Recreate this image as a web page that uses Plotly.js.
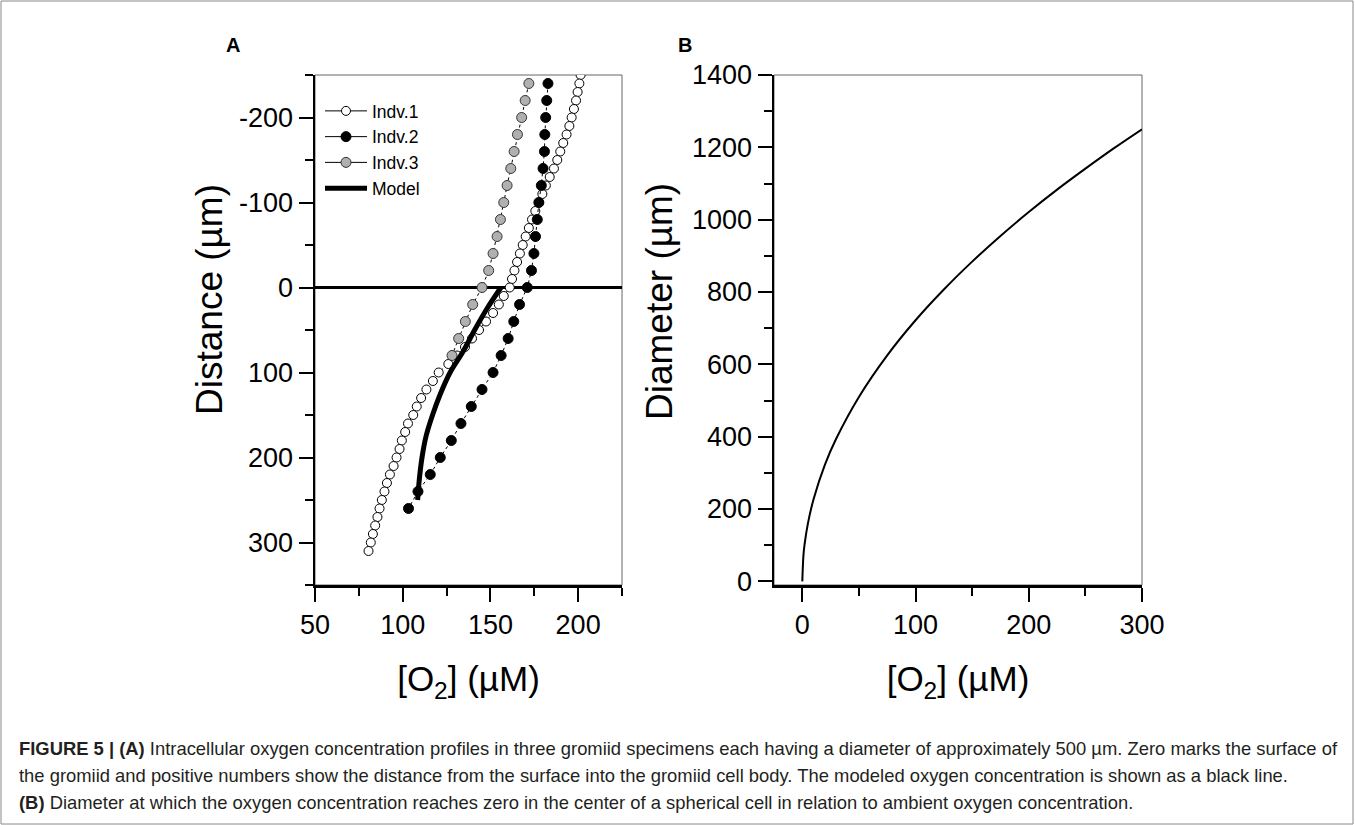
<!DOCTYPE html>
<html>
<head>
<meta charset="utf-8">
<script src="https://cdn.plot.ly/plotly-3.0.1.min.js"></script>
<style>
html,body{margin:0;padding:0;background:#fff;}
#chart{width:1355px;height:825px;}
</style>
</head>
<body>
<div id="chart"></div>
<script>
// ---------- Panel A data ----------
const indv1Y = [-250,-240,-230,-220,-210,-200,-190,-180,-170,-160,-150,-140,-130,-120,-110,-100,-90,-80,-70,-60,-50,-40,-30,-20,-10,0,10,20,30,40,50,60,70,80,90,100,110,120,130,140,150,160,170,180,190,200,210,220,230,240,250,260,270,280,290,300,310];
const indv1X = [201.4,200.7,199.7,198.8,197.6,196.3,195.0,193.4,191.5,189.8,188.1,186.2,183.8,181.6,179.6,177.7,175.6,173.7,171.9,170.1,168.4,166.8,165.2,163.7,162.3,161.0,157.6,154.8,151.5,147.5,143.5,139.5,135.5,131.0,126.0,120.5,117.2,113.5,110.5,108.0,106.0,103.0,101.4,99.5,98.2,96.5,94.8,92.7,91.0,89.6,88.1,86.8,85.6,84.3,83.0,81.8,80.5];

const indv2Y = [-240,-220,-200,-180,-160,-140,-120,-100,-80,-60,-40,-20,0,20,40,60,80,100,120,140,160,180,200,220,240,260];
const indv2X = [182.8,182.1,181.5,181.0,180.8,180.0,179.0,177.6,176.7,175.7,174.8,173.4,171.0,166.6,163.3,160.1,156.1,151.5,145.2,139.1,133.2,127.7,121.4,115.7,108.7,103.3];

const indv3Y = [-240,-220,-200,-180,-160,-140,-120,-100,-80,-60,-40,-20,0,20,40,60,80];
const indv3X = [171.9,169.8,167.8,165.4,163.5,161.6,159.5,157.6,155.7,153.8,151.5,149.0,145.2,139.9,135.7,131.9,128.1];

const modelY = [0,25,50,75,100,125,150,175,200,225,250];
const modelX = [156,148,141,134.5,127,121.5,117,113.3,111,109.5,108.5];

const xTicksA = [50,100,150,200];
const xMinorA = [75,125,175,225];
const yTicksA = [-200,-100,0,100,200,300];
const yTickTextA = ['-200','-100','0','100','200','300'];
const yMinorA = [-250,-150,-50,50,150,250,350];

// ---------- Panel B data ----------
const diaC = [0,1,2,5,10,20,30,50,75,100,125,150,175,200,225,250,275,300];
const diaD = [0,72,102,161,228,323,395,510,625,722,807,884,955,1021,1083,1141,1197,1250];

const xTicksB = [0,100,200,300];
const xMinorB = [50,150,250];
const yTicksB = [0,200,400,600,800,1000,1200,1400];
const yMinorB = [100,300,500,700,900,1100,1300];

// ---------- Texts ----------
const seriesNames = ['Indv.1','Indv.2','Indv.3','Model'];
const xTitle = '[O<sub>2</sub>] (µM)';
const yTitleA = 'Distance (µm)';
const yTitleB = 'Diameter (µm)';
const captionLines = [
  '<b>FIGURE 5 | (A)</b> Intracellular oxygen concentration profiles in three gromiid specimens each having a diameter of approximately 500 µm. Zero marks the surface of',
  'the gromiid and positive numbers show the distance from the surface into the gromiid cell body. The modeled oxygen concentration is shown as a black line.',
  '<b>(B)</b> Diameter at which the oxygen concentration reaches zero in the center of a spherical cell in relation to ambient oxygen concentration.'
];

const FONT = 'Liberation Sans, Arial, Helvetica, sans-serif';
const W = 1355, H = 825;
const px = v => v / W;
const py = v => 1 - v / H;

const dashLine = {color:'black', width:1, dash:'3px,3px'};
const solidLine = {color:'black', width:1};
const markers = [
  {symbol:'circle', size:9, color:'white', line:{color:'black', width:1}},
  {symbol:'circle', size:10, color:'black', line:{color:'black', width:1}},
  {symbol:'circle', size:10, color:'#b0b0b0', line:{color:'#333', width:1}}
];

const traces = [
  {x: indv1X, y: indv1Y, name: seriesNames[0], type:'scatter', mode:'lines+markers', xaxis:'x', yaxis:'y',
   line: dashLine, marker: markers[0], showlegend:false},
  {x: indv2X, y: indv2Y, name: seriesNames[1], type:'scatter', mode:'lines+markers', xaxis:'x', yaxis:'y',
   line: dashLine, marker: markers[1], showlegend:false},
  {x: indv3X, y: indv3Y, name: seriesNames[2], type:'scatter', mode:'lines+markers', xaxis:'x', yaxis:'y',
   line: dashLine, marker: markers[2], showlegend:false},
  {x: modelX, y: modelY, name: seriesNames[3], type:'scatter', mode:'lines', xaxis:'x', yaxis:'y',
   line:{color:'black', width:5, shape:'spline'}, showlegend:false},
  {x: diaC, y: diaD, name:'Diameter', type:'scatter', mode:'lines', xaxis:'x2', yaxis:'y2', showlegend:false,
   line:{color:'black', width:2, shape:'spline'}},
  // legend entries (solid connector lines as in the original legend)
  {x:[null], y:[null], name: seriesNames[0], type:'scatter', mode:'lines+markers', xaxis:'x', yaxis:'y', line: solidLine, marker: markers[0]},
  {x:[null], y:[null], name: seriesNames[1], type:'scatter', mode:'lines+markers', xaxis:'x', yaxis:'y', line: solidLine, marker: markers[1]},
  {x:[null], y:[null], name: seriesNames[2], type:'scatter', mode:'lines+markers', xaxis:'x', yaxis:'y', line: solidLine, marker: markers[2]},
  {x:[null], y:[null], name: seriesNames[3], type:'scatter', mode:'lines', xaxis:'x', yaxis:'y', line:{color:'black', width:5}}
];

const tickFont = {family: FONT, size: 27, color:'black'};
const titleFont = {family: FONT, size: 35, color:'black'};
const yTitleFont = {family: FONT, size: 37, color:'black'};
const capFont = {family: FONT, size: 18.4, color:'#231f20'};

function axisBase() {
  return {
    showline:true, linecolor:'black', linewidth:2.5,
    ticks:'outside', ticklen:14, tickwidth:2, tickcolor:'black',
    showgrid:false, zeroline:false, tickfont: tickFont, tickmode:'array'
  };
}

const layout = {
  width: W, height: H,
  margin:{l:0, r:0, t:0, b:0},
  paper_bgcolor:'white', plot_bgcolor:'white',
  font:{family: FONT, color:'black'},
  showlegend:true,
  legend:{x: px(320), y: py(93), xanchor:'left', yanchor:'top', bgcolor:'rgba(0,0,0,0)',
          font:{family: FONT, size:17.5, color:'black'}, itemwidth:42, tracegroupgap:0},
  xaxis: Object.assign(axisBase(), {
    domain:[px(315), px(622)], range:[50,225], anchor:'y',
    tickvals: xTicksA,
    minor:{tickmode:'array', tickvals: xMinorA, ticks:'outside', ticklen:8, tickwidth:2, tickcolor:'black', showgrid:false},
    title:{text: xTitle, font: titleFont, standoff: 28}
  }),
  yaxis: Object.assign(axisBase(), {
    domain:[py(585), py(75)], range:[350,-250], anchor:'x',
    tickvals: yTicksA, ticktext: yTickTextA,
    zeroline:true, zerolinecolor:'black', zerolinewidth:2.5,
    minor:{tickmode:'array', tickvals: yMinorA, ticks:'outside', ticklen:8, tickwidth:2, tickcolor:'black', showgrid:false}
  }),
  xaxis2: Object.assign(axisBase(), {
    domain:[px(774), px(1142)], range:[-25,300], anchor:'y2',
    tickvals: xTicksB,
    minor:{tickmode:'array', tickvals: xMinorB, ticks:'outside', ticklen:8, tickwidth:2, tickcolor:'black', showgrid:false},
    title:{text: xTitle, font: titleFont, standoff: 28}
  }),
  yaxis2: Object.assign(axisBase(), {
    domain:[py(585), py(75)], range:[-10,1400], anchor:'x2',
    tickvals: yTicksB,
    minor:{tickmode:'array', tickvals: yMinorB, ticks:'outside', ticklen:8, tickwidth:2, tickcolor:'black', showgrid:false}
  }),
  shapes:[
    {type:'rect', xref:'x domain', yref:'y domain', x0:0, x1:1, y0:0, y1:1, line:{color:'#666', width:1}, layer:'below'},
    {type:'rect', xref:'x2 domain', yref:'y2 domain', x0:0, x1:1, y0:0, y1:1, line:{color:'#666', width:1}, layer:'below'},
    {type:'rect', xref:'paper', yref:'paper', x0:px(1), x1:px(1353), y0:py(824), y1:py(1), line:{color:'#888', width:1}, layer:'below'}
  ],
  annotations:[
    {text:'<b>A</b>', xref:'paper', yref:'paper', x:px(224), y:py(45), xanchor:'left', yanchor:'middle', showarrow:false,
     font:{family: FONT, size:20, color:'black'}},
    {text:'<b>B</b>', xref:'paper', yref:'paper', x:px(676), y:py(45), xanchor:'left', yanchor:'middle', showarrow:false,
     font:{family: FONT, size:20, color:'black'}},
    {text: yTitleA, xref:'paper', yref:'paper', x:px(209), y:py(300), xanchor:'center', yanchor:'middle', textangle:-90,
     showarrow:false, font: yTitleFont},
    {text: yTitleB, xref:'paper', yref:'paper', x:px(659), y:py(302), xanchor:'center', yanchor:'middle', textangle:-90,
     showarrow:false, font: yTitleFont},
    {text: captionLines[0], xref:'paper', yref:'paper', x:px(17), y:py(748), xanchor:'left', yanchor:'middle', showarrow:false, font: capFont},
    {text: captionLines[1], xref:'paper', yref:'paper', x:px(17), y:py(775), xanchor:'left', yanchor:'middle', showarrow:false, font: capFont},
    {text: captionLines[2], xref:'paper', yref:'paper', x:px(17), y:py(802), xanchor:'left', yanchor:'middle', showarrow:false, font: capFont}
  ]
};

Plotly.newPlot('chart', traces, layout, {displayModeBar:false, staticPlot:true});
</script>
</body>
</html>
